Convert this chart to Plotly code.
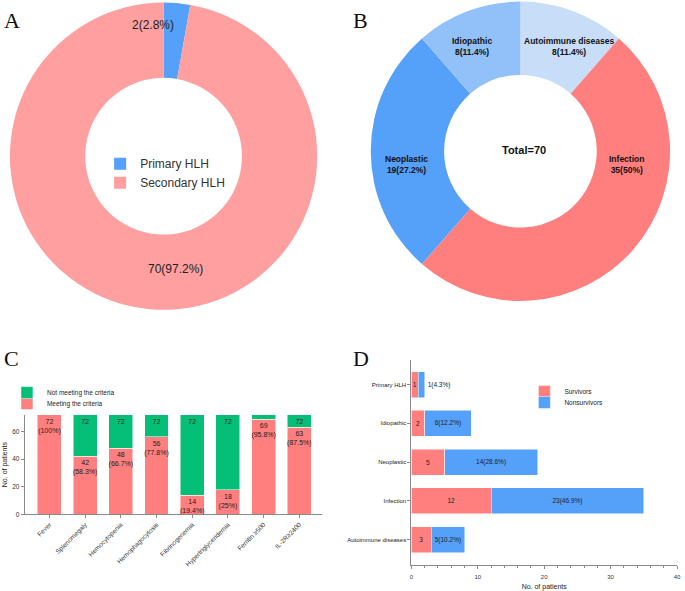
import plotly.graph_objects as go

# panel A
hlh_types = ["Primary HLH", "Secondary HLH"]
hlh_counts = [2, 70]
hlh_text = ["2(2.8%)", "70(97.2%)"]

# panel B
causes = ["Autoimmune diseases", "Infection", "Neoplastic", "Idiopathic"]
cause_counts = [8, 35, 19, 8]
cause_text = ["Autoimmune diseases<br>8(11.4%)", "Infection<br>35(50%)",
              "Neoplastic<br>19(27.2%)", "Idiopathic<br>8(11.4%)"]

# panel C
criteria = ["Fever", "Splenomegaly", "Hemocytopenia", "Hemophagocytosis",
            "Fibrinogenemia", "Hypertriglyceridemia", "Ferritin ≥500", "IL-2R≥2400"]
meeting = [72, 42, 48, 56, 14, 18, 69, 63]
meeting_text = ["72<br>(100%)", "42<br>(58.3%)", "48<br>(66.7%)", "56<br>(77.8%)",
                "14<br>(19.4%)", "18<br>(25%)", "69<br>(95.8%)", "63<br>(87.5%)"]
not_meeting = [0, 30, 24, 16, 58, 54, 3, 9]
not_meeting_text = ["", "72", "72", "72", "72", "72", "", "72"]

# panel D
groups = ["Autoimmune diseases", "Infection", "Neoplastic", "Idiopathic", "Primary HLH"]
survivors = [3, 12, 5, 2, 1]
nonsurvivors = [5, 23, 14, 7, 1]
nonsurv_text = ["5(10.2%)", "23(46.9%)", "14(28.6%)", "6(12.2%)", "1(4.3%)"]

RED = "#ff7f7f"
BLUE = "#55a0f8"
GREEN = "#05bf78"
FONT = "Liberation Sans"

W, H = 685, 591
def px(x0, x1):
    return [x0 / W, x1 / W]
def py(y0, y1):
    return [1 - y1 / H, 1 - y0 / H]

fig = go.Figure()

fig.add_trace(go.Pie(
    labels=hlh_types, values=hlh_counts, textinfo="none",
    hole=0.51, sort=False, direction="counterclockwise", rotation=0,
    marker=dict(colors=["#55a0f8", "#ff9f9f"]),
    domain=dict(x=px(8, 318), y=py(2, 312)), legend="legend",
    hoverinfo="label+value"))

fig.add_trace(go.Pie(
    labels=causes, values=cause_counts, textinfo="none",
    hole=0.51, sort=False, direction="clockwise", rotation=0,
    marker=dict(colors=["#c7ddf8", RED, BLUE, "#92c0f8"]),
    domain=dict(x=px(372, 674), y=py(1, 303)), showlegend=False,
    hoverinfo="label+value"))

fig.add_trace(go.Bar(
    x=criteria, y=meeting, name="Meeting the criteria", marker_color=RED,
    marker_line=dict(color="white", width=0.5),
    text=meeting_text, textposition="inside", insidetextanchor="end", textangle=0,
    constraintext="none", textfont=dict(size=7, color="#222"),
    xaxis="x", yaxis="y", legend="legend3"))
fig.add_trace(go.Bar(
    x=criteria, y=not_meeting, name="Not meeting the criteria", marker_color=GREEN,
    marker_line=dict(color="white", width=0.5),
    text=not_meeting_text, textposition="inside", insidetextanchor="end", textangle=0,
    constraintext="none", textfont=dict(size=7, color="#222"),
    xaxis="x", yaxis="y", legend="legend2"))

fig.add_trace(go.Bar(
    y=groups, x=survivors, name="Survivors", orientation="h", marker_color=RED,
    marker_line=dict(color="white", width=0.5),
    text=survivors, textposition="inside", insidetextanchor="middle", textangle=0,
    constraintext="none", textfont=dict(size=6.5, color="#222"),
    xaxis="x2", yaxis="y2", legend="legend4"))
fig.add_trace(go.Bar(
    y=groups, x=nonsurvivors, name="Nonsurvivors", orientation="h", marker_color=BLUE,
    marker_line=dict(color="white", width=0.5),
    text=nonsurv_text, textposition=["inside", "inside", "inside", "inside", "outside"],
    insidetextanchor="middle", textangle=0, cliponaxis=False,
    constraintext="none", textfont=dict(size=6.5, color="#222"),
    xaxis="x2", yaxis="y2", legend="legend5"))

axis_common = dict(showline=True, linecolor="#8a8a8a", linewidth=1, ticks="outside",
                   tickcolor="#8a8a8a", ticklen=3, showgrid=False, zeroline=False,
                   tickfont=dict(size=6.5, color="#333"))

small_legend = dict(xanchor="left", yanchor="top", font=dict(size=6.5, color="#222"),
                    bgcolor="rgba(0,0,0,0)", itemwidth=30)

fig.update_layout(
    width=W, height=H, margin=dict(l=0, r=0, t=0, b=0),
    plot_bgcolor="white", paper_bgcolor="white",
    font=dict(family=FONT, color="#222"),
    barmode="stack", bargap=0.33,
    xaxis=dict(axis_common, domain=px(23, 323), range=[-0.69, 7.64], tickangle=-45),
    yaxis=dict(axis_common, domain=py(417, 517), range=[0, 72], tickvals=[0, 20, 40, 60],
               title=dict(text="No. of patients", font=dict(size=7), standoff=3)),
    xaxis2=dict(axis_common, domain=px(413, 681), range=[0, 40], dtick=10, anchor="y2",
                ticklabelstandoff=3, tickfont=dict(size=6, color="#333"),
                minor=dict(dtick=2, ticks="outside", ticklen=2, tickcolor="#8a8a8a"),
                title=dict(text="No. of patients", font=dict(size=7), standoff=5)),
    yaxis2=dict(axis_common, domain=py(362, 568), range=[-0.66, 4.63], anchor="x2",
                tickfont=dict(size=6, color="#222")),
    legend=dict(x=99 / W, y=1 - 150 / H, xanchor="left", yanchor="top",
                font=dict(size=12, color="#333"), bgcolor="rgba(0,0,0,0)", itemwidth=30),
    legend2=dict(small_legend, x=5 / W, y=1 - 380 / H),
    legend3=dict(small_legend, x=5 / W, y=1 - 391 / H),
    legend4=dict(small_legend, x=527 / W, y=1 - 379 / H),
    legend5=dict(small_legend, x=527 / W, y=1 - 390 / H),
)

letters = [("A", 0, 6), ("B", 352, 6), ("C", 0, 346), ("D", 352, 346)]
for letter, lx, ly in letters:
    fig.add_annotation(text=letter, x=lx / W, y=1 - ly / H, xref="paper", yref="paper",
                       xanchor="left", yanchor="top", showarrow=False,
                       font=dict(family="Liberation Serif", size=22, color="#111"))

# slice labels of the two donuts
pie_a_pos = [(152, 25), (175, 270)]
for txt, (tx, ty) in zip(hlh_text, pie_a_pos):
    fig.add_annotation(text=txt, x=tx / W, y=1 - ty / H, xref="paper", yref="paper",
                       xanchor="center", yanchor="middle",
                       showarrow=False, font=dict(size=12, color="#222"))

pie_b_pos = [(572, 47), (630, 165), (408, 165), (474, 47)]
for txt, (tx, ty) in zip(cause_text, pie_b_pos):
    fig.add_annotation(text="<b>" + txt.replace("<br>", "</b><br><b>") + "</b>",
                       x=tx / W, y=1 - ty / H, xref="paper", yref="paper",
                       xanchor="center", yanchor="middle",
                       showarrow=False, font=dict(size=8.5, color="#111"))

fig.add_annotation(text="<b>Total=70</b>", x=527 / W, y=1 - 151 / H, xref="paper", yref="paper",
                   xanchor="center", yanchor="middle",
                   showarrow=False, font=dict(size=11, color="#111"))

fig.write_html("out.html", config={"displayModeBar": False},
               post_script="document.body.style.margin='0px';")
